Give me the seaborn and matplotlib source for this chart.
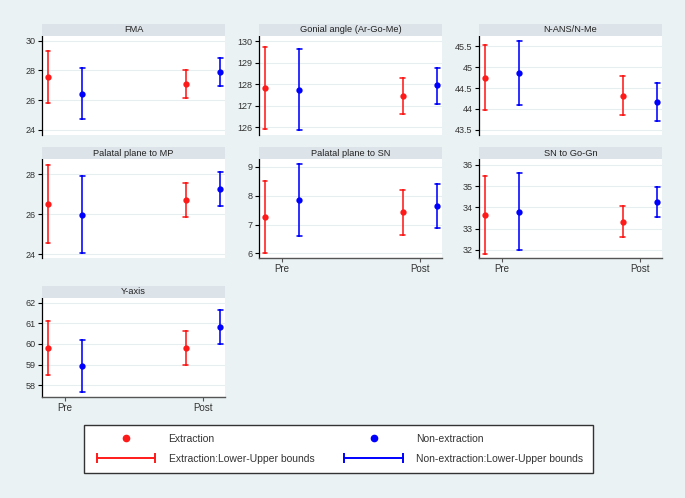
import numpy as np
import pandas as pd
import matplotlib
matplotlib.use("Agg")
import matplotlib.pyplot as plt
from matplotlib.lines import Line2D
from matplotlib.legend_handler import HandlerLine2D
import seaborn as sns

# ---------------- data ----------------
groups = ["Extraction", "Non-extraction"]
times = ["Pre", "Post"]

# order of values: [Extraction-Pre, Extraction-Post, Non-extraction-Pre, Non-extraction-Post]
fma_mean = [27.55, 27.10, 26.45, 27.90]
fma_lower = [25.80, 26.15, 24.75, 26.95]
fma_upper = [29.30, 28.05, 28.15, 28.85]

gon_mean = [127.85, 127.45, 127.75, 127.95]
gon_lower = [125.90, 126.60, 125.85, 127.10]
gon_upper = [129.75, 128.30, 129.65, 128.75]

nans_mean = [44.75, 44.32, 44.85, 44.17]
nans_lower = [43.98, 43.85, 44.10, 43.72]
nans_upper = [45.53, 44.78, 45.62, 44.62]

ppmp_mean = [26.50, 26.70, 25.98, 27.25]
ppmp_lower = [24.55, 25.85, 24.05, 26.40]
ppmp_upper = [28.45, 27.55, 27.90, 28.10]

ppsn_mean = [7.25, 7.42, 7.85, 7.65]
ppsn_lower = [6.00, 6.65, 6.60, 6.88]
ppsn_upper = [8.50, 8.18, 9.08, 8.42]

sngogn_mean = [33.65, 33.33, 33.80, 34.27]
sngogn_lower = [31.80, 32.60, 32.00, 33.55]
sngogn_upper = [35.50, 34.05, 35.60, 34.97]

yax_mean = [59.80, 59.82, 58.92, 60.80]
yax_lower = [58.50, 59.00, 57.65, 60.00]
yax_upper = [61.10, 60.65, 60.20, 61.63]

titles = ["FMA", "Gonial angle (Ar-Go-Me)", "N-ANS/N-Me",
          "Palatal plane to MP", "Palatal plane to SN", "SN to Go-Gn",
          "Y-axis"]
means = [fma_mean, gon_mean, nans_mean, ppmp_mean, ppsn_mean, sngogn_mean, yax_mean]
lowers = [fma_lower, gon_lower, nans_lower, ppmp_lower, ppsn_lower, sngogn_lower, yax_lower]
uppers = [fma_upper, gon_upper, nans_upper, ppmp_upper, ppsn_upper, sngogn_upper, yax_upper]

yticks = [[24, 26, 28, 30], [126, 127, 128, 129, 130], [43.5, 44, 44.5, 45, 45.5],
          [24, 26, 28], [6, 7, 8, 9], [32, 33, 34, 35, 36], [58, 59, 60, 61, 62]]
ytick_labels = [["24", "26", "28", "30"], ["126", "127", "128", "129", "130"],
                ["43.5", "44", "44.5", "45", "45.5"], ["24", "26", "28"],
                ["6", "7", "8", "9"], ["32", "33", "34", "35", "36"],
                ["58", "59", "60", "61", "62"]]
ylims = [(23.66, 30.32), (125.64, 130.25), (43.38, 45.74), (23.80, 28.77),
         (5.84, 9.27), (31.62, 36.28), (57.43, 62.23)]

colors = ["#ff1a1a", "#0000ff"]

# ---------------- style ----------------
sns.set_theme(style="ticks")
plt.rcParams["font.family"] = ["Liberation Sans", "DejaVu Sans"]

BG = "#eaf2f3"
STRIP = "#dde4e9"
fig = plt.figure(figsize=(6.85, 4.98), dpi=100, facecolor=BG)

W, H = 685.0, 498.0
col_left = [42, 259, 479]
col_w = 183
row_bottom = [135, 258, 397]
row_h = 99
strip_h = 12
x_label_panels = {4, 5, 6}

for i in range(7):
    r, c = divmod(i, 3)
    l = col_left[c] / W
    b = 1 - row_bottom[r] / H
    w = col_w / W
    h = row_h / H
    ax = fig.add_axes([l, b, w, h])
    ax.set_facecolor("white")

    rows = []
    for gi, g in enumerate(groups):
        for ti, t in enumerate(times):
            k = gi * 2 + ti
            for v in (lowers[i][k], means[i][k], uppers[i][k]):
                rows.append({"group": g, "time": t, "value": v})
    df = pd.DataFrame(rows)

    sns.pointplot(data=df, x="time", y="value", hue="group", order=times,
                  hue_order=groups, palette=colors, estimator="median",
                  errorbar=lambda v: (v.min(), v.max()), dodge=0.25,
                  linestyle="none", markers="o", markersize=2.5,
                  capsize=0.035, err_kws={"linewidth": 1.15}, ax=ax, legend=False)

    ax.set_xlim(-0.168, 1.16)
    ax.set_ylim(*ylims[i])
    ax.set_yticks(yticks[i])
    ax.set_yticklabels(ytick_labels[i])
    ax.set_xlabel("")
    ax.set_ylabel("")
    ax.yaxis.grid(True, color="#e6eef0", linewidth=0.8)
    ax.set_axisbelow(True)
    for s in ("top", "right"):
        ax.spines[s].set_visible(False)
    ax.spines["left"].set_color("black")
    ax.spines["left"].set_linewidth(0.9)
    ax.tick_params(axis="y", left=True, length=3, width=0.8, color="black",
                   labelsize=6.5, labelcolor="#333333", pad=1.5, direction="out")
    if i in x_label_panels:
        ax.spines["bottom"].set_color("#555555")
        ax.spines["bottom"].set_linewidth(1.0)
        ax.tick_params(axis="x", bottom=True, length=3, width=0.8, color="#555555",
                       labelsize=7, labelcolor="#333333", pad=1.5)
    else:
        ax.spines["bottom"].set_visible(False)
        ax.tick_params(axis="x", bottom=False, labelbottom=False)

    sax = fig.add_axes([l, b + h, w, strip_h / H])
    sax.set_facecolor(STRIP)
    sax.set_xticks([])
    sax.set_yticks([])
    for s in sax.spines.values():
        s.set_visible(False)
    sax.text(0.5, 0.5, titles[i], ha="center", va="center", fontsize=6.7,
             color="#222222", transform=sax.transAxes)

# ---------------- legend ----------------
h1 = Line2D([], [], color=colors[0], marker="o", linestyle="none", markersize=4.5)
h2 = Line2D([], [], color=colors[0], marker="|", markersize=7, markeredgewidth=1.4,
            linewidth=1.4)
h3 = Line2D([], [], color=colors[1], marker="o", linestyle="none", markersize=4.5)
h4 = Line2D([], [], color=colors[1], marker="|", markersize=7, markeredgewidth=1.4,
            linewidth=1.4)
labels = ["Extraction", "Extraction:Lower-Upper bounds",
          "Non-extraction", "Non-extraction:Lower-Upper bounds"]
leg = fig.legend([h1, h2, h3, h4], labels, ncol=2, loc="center",
                 bbox_to_anchor=(338.5 / W, 1 - 449 / H), frameon=True,
                 fancybox=False, edgecolor="#333333", facecolor="white",
                 framealpha=1, fontsize=7.5, handlelength=6.2, handletextpad=1.0,
                 columnspacing=2.6, borderpad=0.9, labelspacing=0.95,
                 handler_map={h1: HandlerLine2D(numpoints=1), h3: HandlerLine2D(numpoints=1),
                              h2: HandlerLine2D(numpoints=2), h4: HandlerLine2D(numpoints=2)})
leg.get_frame().set_linewidth(1.0)
for t in leg.get_texts():
    t.set_color("#333333")

fig.savefig("out.png", dpi=100, facecolor=BG)
